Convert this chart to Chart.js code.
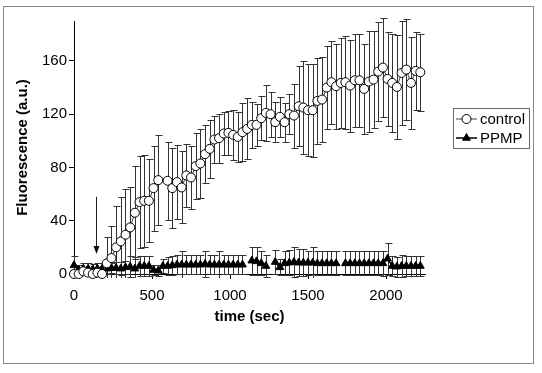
<!DOCTYPE html>
<html>
<head>
<meta charset="utf-8">
<script src="https://cdn.jsdelivr.net/npm/chart.js@4.4.0/dist/chart.umd.min.js"></script>
<style>
  html, body { margin: 0; padding: 0; background: #fff; }
</style>
</head>
<body>
<canvas id="chart" width="542" height="373"></canvas>
<script>
// sampling times (sec), one reading every 30 s
const times = [0, 30, 60, 90, 120, 150, 180, 210, 240, 270, 300, 330, 360, 390, 420, 450, 480, 510, 540, 570,
    600, 630, 660, 690, 720, 750, 780, 810, 840, 870, 900, 930, 960, 990, 1020, 1050, 1080, 1110, 1140, 1170,
    1200, 1230, 1260, 1290, 1320, 1350, 1380, 1410, 1440, 1470, 1500, 1530, 1560, 1590, 1620, 1650, 1680, 1710, 1740, 1770,
    1800, 1830, 1860, 1890, 1920, 1950, 1980, 2010, 2040, 2070, 2100, 2130, 2160, 2190, 2220];

const controlMean = [0, 0, 2, 1, 0, 1, 0, 8, 12, 20, 24.5, 29.5, 35, 46, 54, 55, 55, 64.5, 70.5, null,
    70, 64.5, 69, 65, 74, 72.5, 81, 83, 90, 94, 101, 102, 105.5, 106, 104.5, 103, 106.5, 109, 112, 112,
    117, 121, 120, 114, 118, 114, 120, 119, 126, 125, 123, 123, 130, 131, 140, 144, 141, 143.5, 144, 141.5,
    145.5, 145.5, 139, 144.5, 146, 152, 155, 146.5, 143.5, 140.5, 151, 153.5, 143.5, 152.5, 151.5];
const controlErr = [0, 0, 2, 2, 2, 2, 3, 20, 24, 31, 33, 34, 30, 35, 34.5, 34.5, 31, 32, 34, null,
    29.5, 30, 28, 27, 24, 24, 25, 26, 22, 22, 17.5, 18.5, 16.5, 16.5, 19, 19, 22, 23, 17.5, 16,
    16.5, 21, 17, 15, 15, 14.5, 15, 24, 30, 35, 34.5, 35, 32, 32, 31, 31, 32, 33.5, 35, 34.5,
    35, 35, 33.5, 38, 36.5, 37, 37, 35.5, 37, 39, 39, 38, 34.5, 29.5, 29];

const ppmpMean = [6.5, 3, 4, 4, 3.5, 4, 4, 4, 4.5, 4.5, 4, 5, 5.5, 4, 6, 6, 6, 3, 2.5, 6,
    6, 6.5, 7, 7, 7, 7, 7, 7, 7.5, 7, 7, 7, 7, 7, 7, 7, 7, null, 10, 9.5,
    8, 6, null, 9, 5, 8, 8.5, 9, 8.5, 8.5, 8.5, 8.5, 8, 8, 8, 8, 8, null, 8, 8,
    8, 8, 8, 8, 8, 8, 8, 11.5, 6, 5.5, 6, 6, 6, 6, 6];
const ppmpErr = [7, 4, 4, 4, 4, 4, 4, 4, 4, 4.5, 5, 5, 8, 9, 7.5, 7.5, 7.5, 4, 4, 5,
    7, 7, 7, 10, 7, 7, 7, 7, 9.5, 7, 7, 10.5, 7, 7, 7, 7, 7, null, 10.5, 10.5,
    9, 8, null, 9, 6, 9, 9.5, 11.5, 10, 10, 9, 11.5, 9, 9, 9, 9, 9, null, 9, 9,
    9, 9, 9, 9, 9, 9, 9.5, 12, 7.5, 7.5, 8, 7.5, 7.5, 7.5, 7.5];

const seriesLabels = ['control', 'PPMP'];
const xTicks = [0, 500, 1000, 1500, 2000];
const yTicks = [0, 40, 80, 120, 160];
// arrow: time it points at, and the value range it spans
const arrowMark = { time: 140, top: 58, tip: 15 };

const FONT = '"Liberation Sans", Arial, sans-serif';

function points(vals) {
    return times.map((t, i) => ({ x: t, y: vals[i] }));
}

// vertical error bars with caps, drawn under the markers
const errorBars = {
    id: 'errorBars',
    beforeDatasetsDraw(chart) {
        const ctx = chart.ctx;
        const y = chart.scales.y;
        chart.data.datasets.forEach((ds, di) => {
            const meta = chart.getDatasetMeta(di);
            ctx.save();
            ctx.strokeStyle = '#333';
            ctx.lineWidth = 1;
            meta.data.forEach((pt, i) => {
                const m = ds.data[i].y;
                const e = ds.errors[i];
                if (m == null || !e) return;
                const x = Math.round(pt.x) + 0.5;
                const top = Math.round(y.getPixelForValue(m + e)) + 0.5;
                let bot = Math.round(y.getPixelForValue(m - e)) + 0.5;
                const clipped = bot > y.bottom + 4;
                if (clipped) bot = y.bottom + 4;
                ctx.beginPath();
                ctx.moveTo(x, top); ctx.lineTo(x, bot);
                ctx.moveTo(x - 3, top); ctx.lineTo(x + 4, top);
                if (!clipped) { ctx.moveTo(x - 3, bot); ctx.lineTo(x + 4, bot); }
                ctx.stroke();
            });
            ctx.restore();
        });
    }
};

// outer frame, boxed legend and the arrow
const extras = {
    id: 'extras',
    afterDraw(chart) {
        const ctx = chart.ctx;
        const xs = chart.scales.x, ys = chart.scales.y;
        ctx.save();

        ctx.strokeStyle = '#888';
        ctx.lineWidth = 1;
        ctx.strokeRect(3.5, 6.5, 530, 357);

        // arrow
        const ax = Math.round(xs.getPixelForValue(arrowMark.time)) + 0.5;
        const aTop = ys.getPixelForValue(arrowMark.top);
        const aTip = ys.getPixelForValue(arrowMark.tip);
        ctx.strokeStyle = '#222';
        ctx.beginPath();
        ctx.moveTo(ax, aTop); ctx.lineTo(ax, aTip - 6);
        ctx.stroke();
        ctx.fillStyle = '#111';
        ctx.beginPath();
        ctx.moveTo(ax - 3, aTip - 8); ctx.lineTo(ax + 3, aTip - 8); ctx.lineTo(ax, aTip);
        ctx.closePath();
        ctx.fill();

        // legend
        ctx.strokeStyle = '#666';
        ctx.strokeRect(453.5, 108.5, 76, 40);
        const rows = [119, 138];
        chart.data.datasets.forEach((ds, i) => {
            const yy = rows[i];
            ctx.strokeStyle = ds.borderColor;
            ctx.lineWidth = ds.borderWidth;
            ctx.beginPath();
            ctx.moveTo(456, yy); ctx.lineTo(477, yy);
            ctx.stroke();
            ctx.fillStyle = ds.pointBackgroundColor;
            ctx.strokeStyle = ds.pointBorderColor;
            ctx.lineWidth = 1;
            Chart.helpers.drawPoint(ctx, { pointStyle: ds.pointStyle, radius: ds.pointRadius, borderWidth: 1 }, 466.5, yy);
            ctx.fillStyle = '#000';
            ctx.font = '15px ' + FONT;
            ctx.textBaseline = 'middle';
            ctx.fillText(ds.label, 480, yy + 1);
        });
        ctx.restore();
    }
};

const axisTicks = (vals) => (scale) => { scale.ticks = vals.map(v => ({ value: v })); };

new Chart(document.getElementById('chart'), {
    type: 'line',
    data: {
        datasets: [
            {
                label: seriesLabels[0],
                data: points(controlMean),
                errors: controlErr,
                borderColor: '#444',
                borderWidth: 1,
                pointStyle: 'circle',
                pointRadius: 4.5,
                pointBackgroundColor: '#fff',
                pointBorderColor: '#000',
                pointBorderWidth: 1,
                spanGaps: true,
                clip: false
            },
            {
                label: seriesLabels[1],
                data: points(ppmpMean),
                errors: ppmpErr,
                borderColor: '#000',
                borderWidth: 1.5,
                pointStyle: 'triangle',
                pointRadius: 4.5,
                pointBackgroundColor: '#000',
                pointBorderColor: '#000',
                pointBorderWidth: 1,
                spanGaps: false,
                clip: false
            }
        ]
    },
    options: {
        responsive: false,
        animation: false,
        layout: { padding: { left: 10, top: 21, right: 117, bottom: 43 } },
        plugins: { legend: { display: false }, tooltip: { enabled: false } },
        scales: {
            x: {
                type: 'linear', min: 0, max: 2250,
                afterBuildTicks: axisTicks(xTicks),
                afterFit: (s) => { s.height = 56; },
                ticks: { color: '#000', font: { family: FONT, size: 15 }, padding: 8, maxRotation: 0, callback: (v) => String(v) },
                grid: { drawOnChartArea: false, drawTicks: true, tickLength: 5, color: '#000' },
                border: { color: '#000', width: 1 },
                title: { display: true, text: 'time (sec)', color: '#000', font: { family: FONT, size: 15, weight: 'bold' }, padding: { top: 4, bottom: 4 } }
            },
            y: {
                type: 'linear', min: 0, max: 190,
                afterBuildTicks: axisTicks(yTicks),
                afterFit: (s) => { s.width = 64; },
                ticks: { color: '#000', font: { family: FONT, size: 15 }, padding: 2, callback: (v) => String(v) },
                grid: { drawOnChartArea: false, drawTicks: true, tickLength: 5, color: '#000' },
                border: { color: '#000', width: 1 },
                title: { display: true, text: 'Fluorescence (a.u.)', color: '#000', font: { family: FONT, size: 15, weight: 'bold' }, padding: { top: 4, bottom: 4 } }
            }
        }
    },
    plugins: [errorBars, extras]
});
</script>
</body>
</html>
